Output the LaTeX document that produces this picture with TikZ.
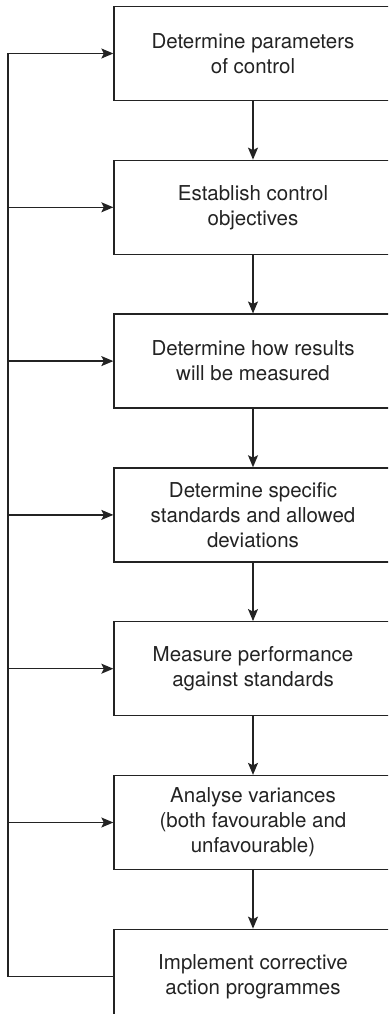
\documentclass[tikz,border=0pt]{standalone}
\usepackage{fontspec}
\setmainfont{TeX Gyre Heros}
\usetikzlibrary{arrows.meta,positioning}
\definecolor{InkGray}{RGB}{35,35,35}

\begin{document}
\begin{tikzpicture}[x=1pt,y=-1pt,
  stepbox/.style={draw=InkGray, line width=1.3pt, minimum width=278pt,
                  minimum height=94pt, inner sep=0pt, align=center,
                  text=InkGray, font=\fontsize{20.5}{25}\selectfont},
  flow/.style={draw=InkGray, line width=1.3pt,
               -{Stealth[length=12pt,width=10pt,inset=2.5pt]}},
  node distance=58.5pt]
\clip (0,0) rectangle (388,1014);
\node[stepbox] (param) at (253,53.5) {Determine parameters\\of control};
\node[stepbox, below=of param] (obj) {Establish control\\objectives};
\node[stepbox, below=of obj] (meas) {Determine how results\\will be measured};
\node[stepbox, below=of meas] (std) {Determine specific\\standards and allowed\\deviations};
\node[stepbox, below=of std] (perf) {Measure performance\\against standards};
\node[stepbox, below=of perf] (var) {Analyse variances\\(both favourable and\\unfavourable)};
\node[stepbox, below=of var] (act) {Implement corrective\\action programmes};
% main flow
\draw[flow] (param) -- (obj);
\draw[flow] (obj) -- (meas);
\draw[flow] (meas) -- (std);
\draw[flow] (std) -- (perf);
\draw[flow] (perf) -- (var);
\draw[flow] (var) -- (act);
% feedback loop
\coordinate (rail) at (8,53.5);
\draw[flow] (act.west) -| (rail) -- (param.west);
\foreach \n in {obj,meas,std,perf,var}
  \draw[flow] (rail |- \n.west) -- (\n.west);
\end{tikzpicture}
\end{document}
